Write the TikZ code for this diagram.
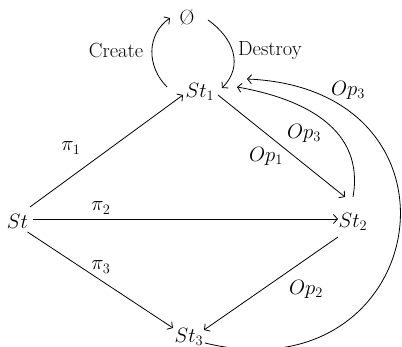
\documentclass[tikz,border=0pt]{standalone}
\usepackage{tikz}
\usetikzlibrary{arrows.meta}
\tikzset{
  trans/.style={->, line width=0.8pt, >={Straight Barb[length=4pt,width=9pt]}},
  state/.style={inner sep=0pt, font=\fontsize{20.5}{24}\selectfont},
  lbl/.style={inner sep=0pt, font=\fontsize{20.5}{24}\selectfont}
}
\begin{document}
\begin{tikzpicture}[x=1pt,y=1pt]
  \useasboundingbox (0,0) rectangle (402,347);

  % states
  \node[state] (empty) at (187,329) {\O};
  \node[state] (st1) at (200,255) {$St_1$};
  \node[state] (st) at (17.5,126) {$St$};
  \node[state] (st2) at (353,125.5) {$St_2$};
  \node[state] (st3) at (189,10) {$St_3$};

  % labels
  \node[lbl] (create) at (116,296) {Create};
  \node[lbl] (destroy) at (270,296) {Destroy};
  \node[lbl] (pi1) at (71,199) {$\pi_1$};
  \node[lbl] (pi2) at (101,139) {$\pi_2$};
  \node[lbl] (pi3) at (101,80) {$\pi_3$};
  \node[lbl] (op1) at (266,191) {$Op_1$};
  \node[lbl] (op2) at (306,58) {$Op_2$};
  \node[lbl] (op3in) at (304,214) {$Op_3$};
  \node[lbl] (op3out) at (348,257) {$Op_3$};

  % create / destroy
  \draw[trans] ([shift={(-33,5)}]st1.center) to[out=135,in=215,looseness=1.07] ([shift={(-17,0)}]empty.center);
  \draw[trans] ([shift={(21,-2)}]empty.center) to[out=-35,in=45,looseness=1.15] ([shift={(22,4)}]st1.center);

  % from St
  \draw[trans] ([shift={(12.5,14)}]st.center) -- ([shift={(-17,-3)}]st1.center);
  \draw[trans] ([shift={(15.5,2)}]st.center) -- ([shift={(-15,2.5)}]st2.center);
  \draw[trans] ([shift={(10,-11)}]st.center) -- ([shift={(-16,9)}]st3.center);

  % operations
  \draw[trans] ([shift={(18,-3)}]st1.center) -- ([shift={(-8,24.5)}]st2.center);
  \draw[trans] ([shift={(-15,-15.5)}]st2.center) -- ([shift={(15,7)}]st3.center);
  \draw[trans] ([shift={(0,24.5)}]st2.center) to[out=80,in=-10,looseness=1.1] ([shift={(37,5)}]st1.center);
  \draw[trans] ([shift={(16,-6)}]st3.center) .. controls +(225,-55) and +(235,-10) .. ([shift={(47,13)}]st1.center);
\end{tikzpicture}
\end{document}
